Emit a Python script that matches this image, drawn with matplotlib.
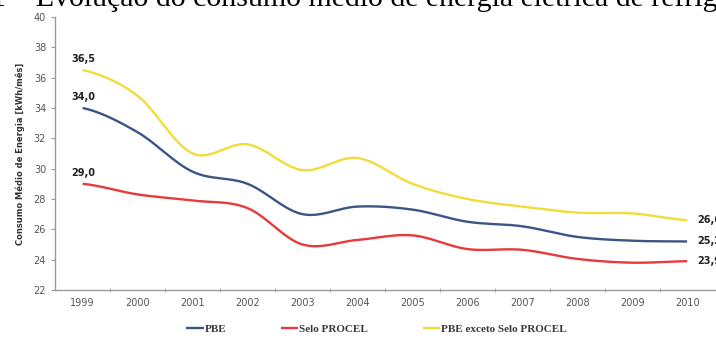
import numpy as np
import matplotlib.pyplot as plt

# Consumo médio de energia (kWh/mês)
years = ["1999", "2000", "2001", "2002", "2003", "2004",
         "2005", "2006", "2007", "2008", "2009", "2010"]
pbe = [34.0, 32.4, 29.8, 29.0, 27.0, 27.5, 27.3, 26.5, 26.2, 25.5, 25.25, 25.2]
procel = [29.0, 28.3, 27.9, 27.4, 25.0, 25.3, 25.6, 24.7, 24.65, 24.05, 23.8, 23.9]
exceto = [36.5, 34.8, 31.0, 31.6, 29.9, 30.7, 29.0, 28.0, 27.5, 27.1, 27.05, 26.6]
first_labels = ["34,0", "29,0", "36,5"]
last_labels = ["25,2", "23,9", "26,6"]
series_names = ["PBE", "Selo PROCEL", "PBE exceto Selo PROCEL"]
colors = ["#3b5585", "#e63a3c", "#f2dc3a"]


def smooth(y, n=30):
    # Catmull-Rom curve through the points, like a "smoothed line" chart
    y = np.asarray(y, dtype=float)
    p = np.concatenate([[y[0]], y, [y[-1]]])
    xs, ys = [], []
    t = np.linspace(0, 1, n, endpoint=False)
    for i in range(len(y) - 1):
        p0, p1, p2, p3 = p[i], p[i + 1], p[i + 2], p[i + 3]
        m1 = (p2 - p0) / 2
        m2 = (p3 - p1) / 2
        h00 = 2 * t**3 - 3 * t**2 + 1
        h10 = t**3 - 2 * t**2 + t
        h01 = -2 * t**3 + 3 * t**2
        h11 = t**3 - t**2
        xs.append(i + t)
        ys.append(h00 * p1 + h10 * m1 + h01 * p2 + h11 * m2)
    xs.append([len(y) - 1])
    ys.append([y[-1]])
    return np.concatenate(xs), np.concatenate(ys)


fig = plt.figure(figsize=(7.16, 3.38), dpi=100)
ax = fig.add_axes([0.077, 0.142, 0.921, 0.808])

x = np.arange(len(years))
for vals, name, c, fl, ll in zip([pbe, procel, exceto], series_names, colors,
                                 first_labels, last_labels):
    sx, sy = smooth(vals)
    ax.plot(sx, sy, color=c, lw=1.7, label=name, solid_capstyle="butt")
    ax.annotate(fl, (x[0], vals[0]), xytext=(-8, 4), textcoords="offset points",
                fontsize=7, fontweight="bold", color="#222222", ha="left", va="bottom")
    ax.annotate(ll, (x[-1], vals[-1]), xytext=(7, 0), textcoords="offset points",
                fontsize=7, fontweight="bold", color="#222222", ha="left", va="center",
                annotation_clip=False)

ax.set_xlim(-0.5, 11.5)
ax.set_ylim(22, 40)
ax.set_yticks(np.arange(22, 41, 2))
ax.set_xticks(x)
ax.set_xticklabels(years)
ax.set_xticks(np.arange(0.5, 11.5, 1), minor=True)
ax.tick_params(axis="x", which="major", length=0, pad=6, labelsize=7, labelcolor="#555555")
ax.tick_params(axis="x", which="minor", length=3, color="#999999", direction="inout")
ax.tick_params(axis="y", length=3, color="#999999", labelsize=7, labelcolor="#555555",
               direction="out")
for s in ["top", "right"]:
    ax.spines[s].set_visible(False)
for s in ["left", "bottom"]:
    ax.spines[s].set_color("#999999")
    ax.spines[s].set_linewidth(1.0)

ax.set_ylabel("Consumo Médio de Energia [kWh/mês]", fontsize=6, fontweight="bold",
              color="#333333", labelpad=6)

leg = fig.legend(loc="center", bbox_to_anchor=(0.526, 0.026), ncol=3, frameon=False,
                 handlelength=1.55, handletextpad=0.1, columnspacing=4.9,
                 prop={"family": "Liberation Serif", "size": 8, "weight": "bold"})
for t in leg.get_texts():
    t.set_color("#3a3a3a")

# cropped caption at the top of the original scan
fig.text(-9 / 716, 1 - 6 / 338,
         "1 – Evolução do consumo médio de energia elétrica de refrigeradores",
         fontsize=21.5, family="Liberation Serif", va="baseline", ha="left")

fig.savefig("out.png", dpi=100)
